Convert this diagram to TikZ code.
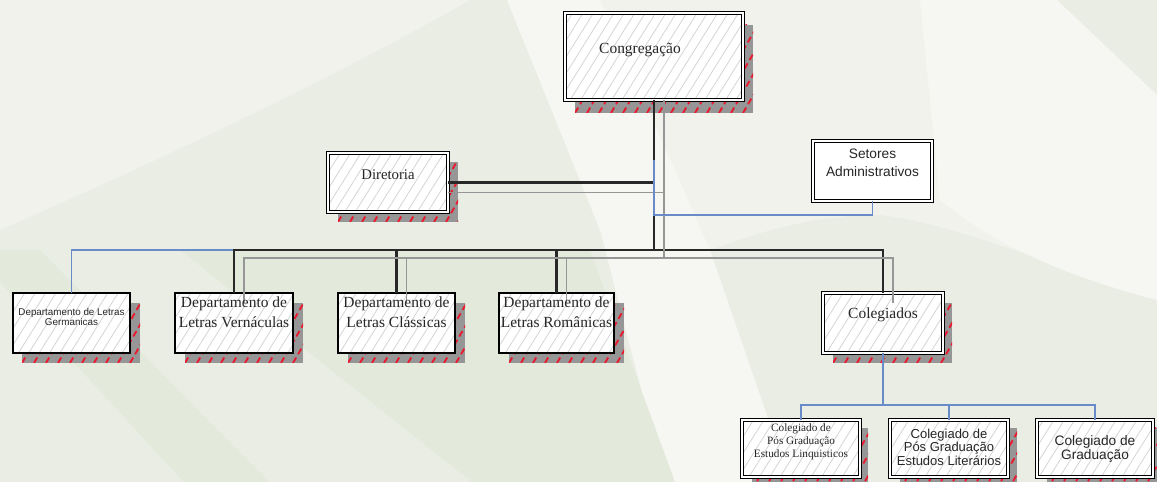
\documentclass[tikz,border=0pt]{standalone}
\usepackage{fontspec}
\setmainfont{Liberation Serif}
\setsansfont{Liberation Sans}
\usetikzlibrary{patterns.meta}

\definecolor{bgbase}{RGB}{233,237,227}
\definecolor{bglight}{RGB}{240,242,235}
\definecolor{bgwhite}{RGB}{246,247,242}
\definecolor{bggreen}{RGB}{228,234,219}
\definecolor{linkdark}{RGB}{40,40,40}
\definecolor{linkgray}{RGB}{150,150,150}
\definecolor{linkblue}{RGB}{105,140,200}
\definecolor{shadegray}{RGB}{150,150,150}
\definecolor{shadered}{RGB}{235,25,45}
\definecolor{hatchgray}{RGB}{212,212,212}

% grey drop shadow with red dashed diagonal marks
\newcommand\dropshade[4]{%
  \begin{scope}
    \clip (#1,#2) rectangle (#3,#4);
    \fill[shadegray] (#1,#2) rectangle (#3,#4);
    \foreach \k in {0,12,...,264}
      \draw[shadered, line width=1.05pt, dash pattern=on 3.6pt off 2.2pt]
        (#1-60+\k,#4) -- ++(60,-104);
  \end{scope}}

\tikzset{
  hatched/.style={preaction={fill=white},
    pattern={Lines[angle=58,distance=5pt,line width=0.45pt]},
    pattern color=hatchgray},
  dblbox/.style={draw=black, line width=0.8pt, double=white,
    double distance=1.1pt, inner sep=0pt, outer sep=0pt},
  sglbox/.style={draw=black, line width=0.75pt, inner sep=0pt, outer sep=0pt},
  darklink/.style={draw=linkdark, line width=1.3pt},
  graylink/.style={draw=linkgray, line width=0.8pt},
  bluelink/.style={draw=linkblue, line width=0.8pt},
  label/.style={align=center, inner sep=0pt, text=black!85},
  serifbig/.style={label, font=\fontsize{8.8}{11.3}\selectfont},
  serifsmall/.style={label, font=\fontsize{6.4}{7.4}\selectfont},
  sansmid/.style={label, font=\sffamily\fontsize{7.8}{10.2}\selectfont},
  sanstiny/.style={label, font=\sffamily\fontsize{5.6}{5.9}\selectfont},
  sansbox/.style={label, font=\sffamily\fontsize{7.4}{7.7}\selectfont},
  sansbig/.style={label, font=\sffamily\fontsize{7.8}{8}\selectfont},
}

\begin{document}
\begin{tikzpicture}[x=0.02cm, y=-0.02cm]
\useasboundingbox (0,0) rectangle (1157,482);
\clip (0,0) rectangle (1157,482);

% background sweeps
\fill[bgbase] (0,0) rectangle (1157,482);
\fill[bglight] (0,0) -- (470,0) .. controls (330,80) and (160,160) .. (0,230) -- cycle;
\fill[bglight] (560,0) -- (1057,0) -- (1157,95) -- (1157,300)
  .. controls (1050,265) and (960,225) .. (880,215)
  .. controls (800,215) and (740,240) .. (710,250) -- cycle;
\fill[bgwhite] (507,0) -- (600,0) -- (710,250) -- (790,482) -- (665,482)
  -- (600,230) -- cycle;
\fill[bgwhite] (1057,0) -- (1157,95) -- (1157,300)
  .. controls (1080,280) and (1000,250) .. (940,200) -- (920,0) -- cycle;
\fill[bggreen] (-30,250) -- (40,250) -- (269,482) -- (184,482) -- cycle;
\fill[bggreen] (180,250) -- (590,250) -- (675,482) -- (472,482) -- cycle;

% shadows
\dropshade{575}{25}{753}{113}
\dropshade{338}{162}{458}{222}
\dropshade{22}{303}{140}{363}
\dropshade{185}{303}{303}{363}
\dropshade{348}{303}{465}{363}
\dropshade{509}{303}{624}{363}
\dropshade{833}{303}{952}{363}
\dropshade{752}{428}{868}{490}
\dropshade{900}{428}{1017}{490}
\dropshade{1047}{428}{1163}{490}

% boxes
\node[dblbox, hatched, minimum width=3.56cm, minimum height=1.74cm] (cong) at (654,56.5) {};
\node[dblbox, hatched, minimum width=2.40cm, minimum height=1.18cm] (dir) at (388,182.5) {};
\node[dblbox, fill=white, minimum width=2.38cm, minimum height=1.20cm] (set) at (872.5,171) {};
\node[sglbox, hatched, minimum width=2.34cm, minimum height=1.20cm] (ger) at (71.5,323) {};
\node[sglbox, hatched, minimum width=2.36cm, minimum height=1.20cm] (ver) at (234,323) {};
\node[sglbox, hatched, minimum width=2.34cm, minimum height=1.20cm] (cla) at (396.5,323) {};
\node[sglbox, hatched, minimum width=2.30cm, minimum height=1.20cm] (rom) at (556.5,323) {};
\node[dblbox, hatched, minimum width=2.40cm, minimum height=1.20cm] (col) at (883,323) {};
\node[dblbox, hatched, minimum width=2.36cm, minimum height=1.14cm] (c1) at (801,448.5) {};
\node[dblbox, hatched, minimum width=2.36cm, minimum height=1.14cm] (c2) at (949,448.5) {};
\node[dblbox, hatched, minimum width=2.32cm, minimum height=1.14cm] (c3) at (1095,448.5) {};

% junction points
\coordinate (trunk) at (654,250);
\coordinate (gtrunk) at (664,258);
\coordinate (bluetop) at (654,160);
\coordinate (bluebend) at (654,215);
\coordinate (cbus) at (883,405);
\coordinate (gd) at ([shift={(0,10)}]dir.east);
\coordinate (gv) at ([shift={(10,10)}]ver.north);
\coordinate (gc) at ([shift={(10,10)}]cla.north);
\coordinate (gr) at ([shift={(10,10)}]rom.north);
\coordinate (gk) at ([shift={(10,10)}]col.north);

% blue link to the Germanic department
\draw[bluelink] (ger.north) |- (trunk);

% dark links
\draw[darklink] (cong.south -| trunk) -- (trunk);
\draw[darklink] (dir.east) -- (dir.east -| trunk);
\draw[darklink] (ver.north) |- (col.north |- trunk) -- (col.north);
\draw[darklink] (cla.north) -- (cla.north |- trunk);
\draw[darklink] (rom.north) -- (rom.north |- trunk);

% grey links
\draw[graylink] (cong.south -| gtrunk) -- (gtrunk);
\draw[graylink] (gd) -- (gd -| gtrunk);
\draw[graylink] (gv) |- (gk |- gtrunk) -- (gk);
\draw[graylink] (gc) -- (gc |- gtrunk);
\draw[graylink] (gr) -- (gr |- gtrunk);

% blue links
\draw[bluelink] (set.south) |- (bluebend) -- (bluetop);
\draw[bluelink] (col.south) -- (cbus);
\draw[bluelink] (c1.north) |- (c3.north |- cbus) -- (c3.north);
\draw[bluelink] (c2.north) -- (c2.north |- cbus);

% labels
\node[serifbig] (congT) at (640,50) {Congregação};
\node[serifbig, font=\fontsize{8.4}{10}\selectfont] (dirT) at (388,175) {Diretoria};
\node[sansmid] (setT) at (872.5,163) {Setores\\Administrativos};
\node[sanstiny] (gerT) at (71.5,317) {Departamento de Letras\\Germanicas};
\node[serifbig] (verT) at (234,312) {Departamento de\\Letras Vernáculas};
\node[serifbig] (claT) at (396.5,312) {Departamento de\\Letras Clássicas};
\node[serifbig] (romT) at (556.5,312) {Departamento de\\Letras Românicas};
\node[serifbig] (colT) at (883,315) {Colegiados};
\node[serifsmall] (c1T) at (801,442) {Colegiado de\\Pós Graduação\\Estudos Linquisticos};
\node[sansbox] (c2T) at (949,447) {Colegiado de\\Pós Graduação\\Estudos Literários};
\node[sansbig] (c3T) at (1095,449) {Colegiado de\\Graduação};
\end{tikzpicture}
\end{document}
